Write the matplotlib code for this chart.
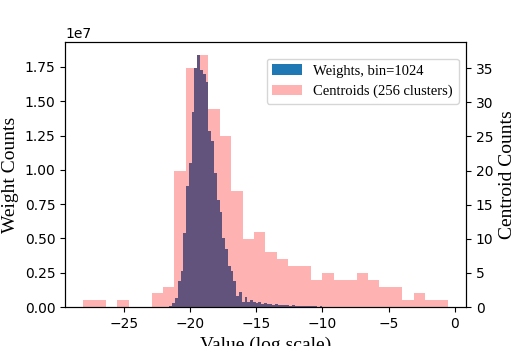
import numpy as np
import matplotlib
matplotlib.use('Agg')
from matplotlib import pyplot as plt

# centroid histogram: 32 bins over the centroid range
centroid_range = (-28.06, -0.55)
centroid_counts = [1, 1, 0, 1, 0, 0, 2, 3, 20, 35, 37, 29, 25, 17, 10, 11,
                   8, 7, 6, 6, 4, 5, 4, 4, 5, 4, 3, 3, 1, 2, 1, 1]

# weight histogram (counts in units of 1e7), visible part only
weight_range = (-21.76, -9.79)
weight_counts_e7 = [0.003, 0.008, 0.03, 0.065, 0.186, 0.26, 0.54, 0.88, 1.05, 1.42,
                    1.74, 1.84, 1.73, 1.70, 1.64, 1.28, 1.21, 0.98, 0.78, 0.69,
                    0.50, 0.42, 0.30, 0.26, 0.19, 0.08, 0.11, 0.04, 0.07, 0.04,
                    0.05, 0.04, 0.03, 0.035, 0.025, 0.03, 0.02, 0.025, 0.018, 0.02,
                    0.015, 0.017, 0.012, 0.013, 0.01, 0.011, 0.008, 0.009, 0.007, 0.007,
                    0.005, 0.006, 0.004, 0.005, 0.003, 0.004, 0.002]

x_limits = (-29.43, 0.83)

serif = ['Liberation Serif', 'DejaVu Serif']

fig = plt.figure(figsize=(5.18, 3.46), dpi=100)
ax = fig.add_axes([0.1255, 0.1127, 0.7741, 0.7659])

w_edges = np.linspace(weight_range[0], weight_range[1], len(weight_counts_e7) + 1)
w_counts = np.array(weight_counts_e7) * 1e7
ax.hist(w_edges[:-1], bins=w_edges, weights=w_counts, color='#1f77b4',
        label='Weights, bin=1024')

ax2 = ax.twinx()
c_edges = np.linspace(centroid_range[0], centroid_range[1], len(centroid_counts) + 1)
ax2.hist(c_edges[:-1], bins=c_edges, weights=centroid_counts, color='red', alpha=0.3,
         label='Centroids (256 clusters)')

ax.set_xlim(*x_limits)
ax.set_ylim(0, max(w_counts) * 1.05)
ax2.set_ylim(0, max(centroid_counts) * 1.05)
ax.set_yticks(np.arange(0, 2.0e7, 0.25e7))
ax2.set_yticks(range(0, 40, 5))

ax.set_xlabel('Value (log scale)', family=serif, fontsize=14)
ax.set_ylabel('Weight Counts', family=serif, fontsize=14)
ax2.set_ylabel('Centroid Counts', family=serif, fontsize=14)

h1, l1 = ax.get_legend_handles_labels()
h2, l2 = ax2.get_legend_handles_labels()
ax2.legend(h1 + h2, l1 + l2, loc='upper right', bbox_to_anchor=(1, 0.965),
           prop={'family': serif, 'size': 10.5})

fig.savefig('out.png', dpi=100)
